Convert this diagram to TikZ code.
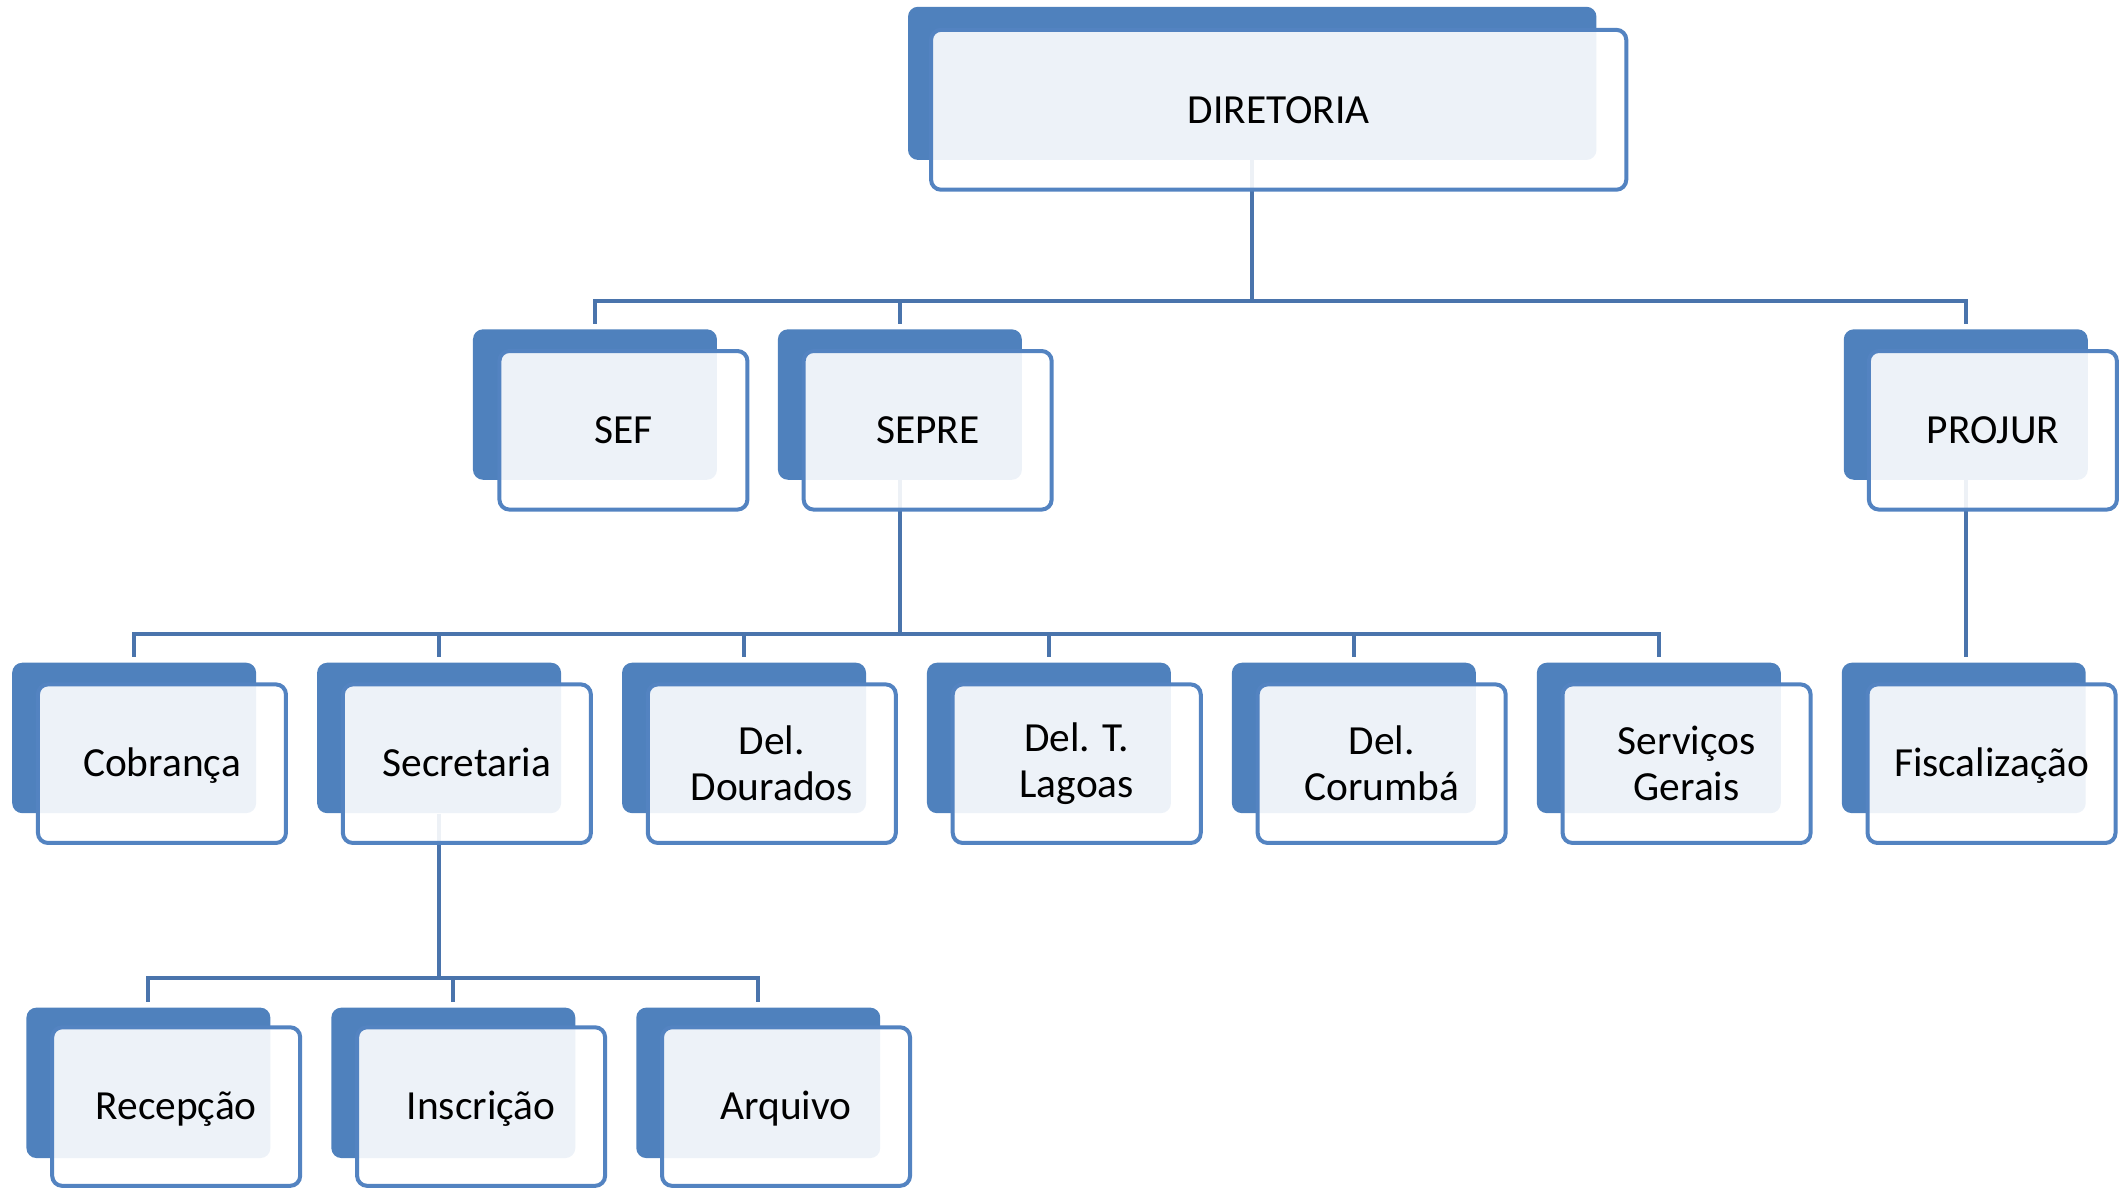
\documentclass[tikz,border=0pt]{standalone}
\usepackage{fontspec}
\setmainfont{Carlito}
\definecolor{backblue}{HTML}{4F81BD}
\definecolor{edgeblue}{HTML}{5383C1}
\definecolor{linkblue}{HTML}{4A74AC}
\tikzset{
  backbox/.style={rectangle, rounded corners=5pt, fill=backblue, draw=none,
    minimum width=180*0.6776pt, minimum height=111*0.6776pt, inner sep=0pt},
  frontbox/.style={rectangle, rounded corners=5pt, fill=white, fill opacity=0.9,
    text opacity=1, draw=edgeblue, draw opacity=1, line width=2pt,
    minimum width=183*0.6776pt, minimum height=117*0.6776pt, inner sep=0pt,
    align=center, font=\fontsize{20.7pt}{23pt}\selectfont, text=black},
  oneline/.style={text height=17pt, text depth=3.7pt},
  link/.style={draw=linkblue, line width=2pt}
}
\begin{document}
\begin{tikzpicture}[x=0.6776pt, y=-0.6776pt]
\useasboundingbox (0,0) rectangle (1568,876);
% back boxes
\node[backbox, minimum width=508*0.6776pt, minimum height=113*0.6776pt] (dirB) at (924,61.5) {};
\node[backbox] (sefB) at (439,298.5) {};
\node[backbox] (sepB) at (664,298.5) {};
\node[backbox] (proB) at (1450.5,298.5) {};
\node[backbox] (cobB) at (99,544.5) {};
\node[backbox] (secB) at (324,544.5) {};
\node[backbox] (douB) at (549,544.5) {};
\node[backbox] (lagB) at (774,544.5) {};
\node[backbox] (corB) at (999,544.5) {};
\node[backbox] (serB) at (1224,544.5) {};
\node[backbox] (fisB) at (1449,544.5) {};
\node[backbox] (recB) at (109.5,799) {};
\node[backbox] (insB) at (334.5,799) {};
\node[backbox] (arqB) at (559.5,799) {};
% bus coordinates
\coordinate (bus1) at (0,222);
\coordinate (bus2) at (0,468);
\coordinate (bus3) at (0,722);
% connectors
\draw[link] (dirB.south) -- (dirB.south |- bus1);
\foreach \c in {sefB,sepB,proB}{
  \draw[link] (dirB.south |- bus1) -| ([yshift=2.5pt]\c.north);
}
\draw[link] (sepB.south) -- (sepB.south |- bus2);
\foreach \c in {cobB,secB,douB,lagB,corB,serB}{
  \draw[link] (sepB.south |- bus2) -| ([yshift=2.5pt]\c.north);
}
\draw[link] (proB.south) -- ([yshift=2.5pt]fisB.north -| proB.south);
\draw[link] (secB.south) -- (secB.south |- bus3);
\foreach \c in {recB,insB,arqB}{
  \draw[link] (secB.south |- bus3) -| ([yshift=2.5pt]\c.north);
}
% front boxes
\node[frontbox, oneline, minimum width=513*0.6776pt, minimum height=118*0.6776pt] (dirF) at (943.5,81) {DIRETORIA};
\node[frontbox, oneline] (sefF) at (460,317.5) {SEF};
\node[frontbox, oneline] (sepF) at (684.5,317.5) {SEPRE};
\node[frontbox, oneline] (proF) at (1470.5,317.5) {PROJUR};
\node[frontbox, oneline] (cobF) at (119.5,563.5) {Cobrança};
\node[frontbox, oneline] (secF) at (344.5,563.5) {Secretaria};
\node[frontbox] (douF) at (569.5,563.5) {Del.\\Dourados};
\node[frontbox] (lagF) at (794.5,563.5) {Del. T.\\Lagoas};
\node[frontbox] (corF) at (1019.5,563.5) {Del.\\Corumbá};
\node[frontbox] (serF) at (1244.5,563.5) {Serviços\\Gerais};
\node[frontbox, oneline] (fisF) at (1469.5,563.5) {Fiscalização};
\node[frontbox, oneline] (recF) at (130,816.5) {Recepção};
\node[frontbox, oneline] (insF) at (355,816.5) {Inscrição};
\node[frontbox, oneline] (arqF) at (580,816.5) {Arquivo};
\end{tikzpicture}
\end{document}
